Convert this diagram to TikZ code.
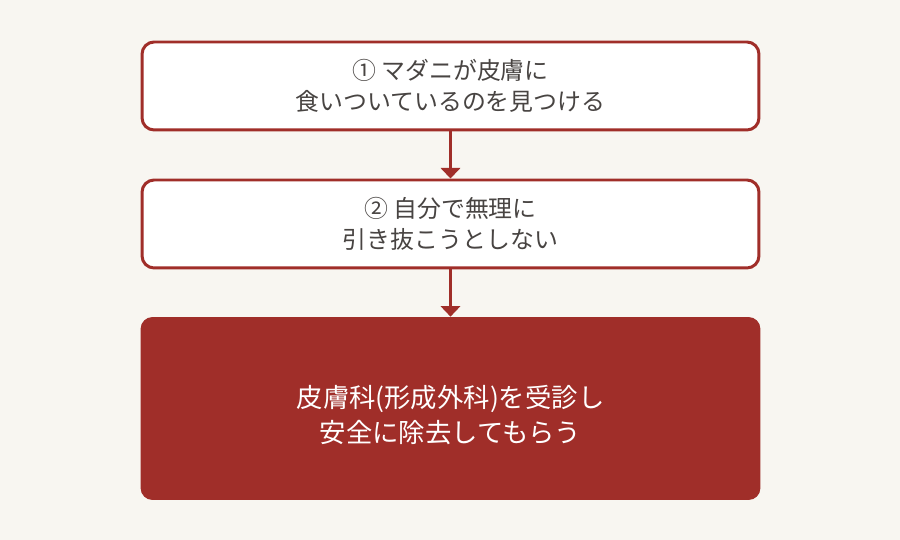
\documentclass[tikz,border=0pt]{standalone}
\usepackage{fontspec}
\setmainfont{Noto Sans CJK JP}
\usetikzlibrary{arrows.meta}
\definecolor{tickred}{RGB}{160,46,41}
\definecolor{paper}{RGB}{248,246,241}
\definecolor{inktext}{RGB}{72,68,66}
\begin{document}
\begin{tikzpicture}[x=0.02cm,y=-0.02cm,
    stepbox/.style={draw=tickred, line width=1.7pt, fill=white, rounded corners=0.24cm,
      minimum width=12.34cm, minimum height=1.76cm, align=center, text=inktext,
      font=\fontsize{13.6pt}{17.8pt}\selectfont, inner sep=0pt},
    finalbox/.style={fill=tickred, rounded corners=0.24cm,
      minimum width=12.4cm, minimum height=3.66cm, inner sep=0pt},
    finaltext/.style={align=center, text=white,
      font=\fontsize{15pt}{20pt}\selectfont, inner sep=0pt},
    flow/.style={draw=tickred, line width=1.7pt, -{Triangle[width=11pt,length=6pt]}}]
                \fill[paper] (0,0) rectangle (900,540);
                \useasboundingbox (0,0) rectangle (900,540);

                \node[stepbox] (find) at (450.5,86) {① マダニが皮膚に\\食いついているのを見つける};
                \node[stepbox] (wait) at (450.5,224) {② 自分で無理に\\引き抜こうとしない};
                \node[finalbox] (clinic) at (450.5,408.5) {};
                \node[finaltext] (cliniclabel) at (450.5,415) {皮膚科(形成外科)を受診し\\安全に除去してもらう};

                \draw[flow] (find) -- (wait);
                \draw[flow] (wait) -- (clinic);
            \end{tikzpicture}
\end{document}
